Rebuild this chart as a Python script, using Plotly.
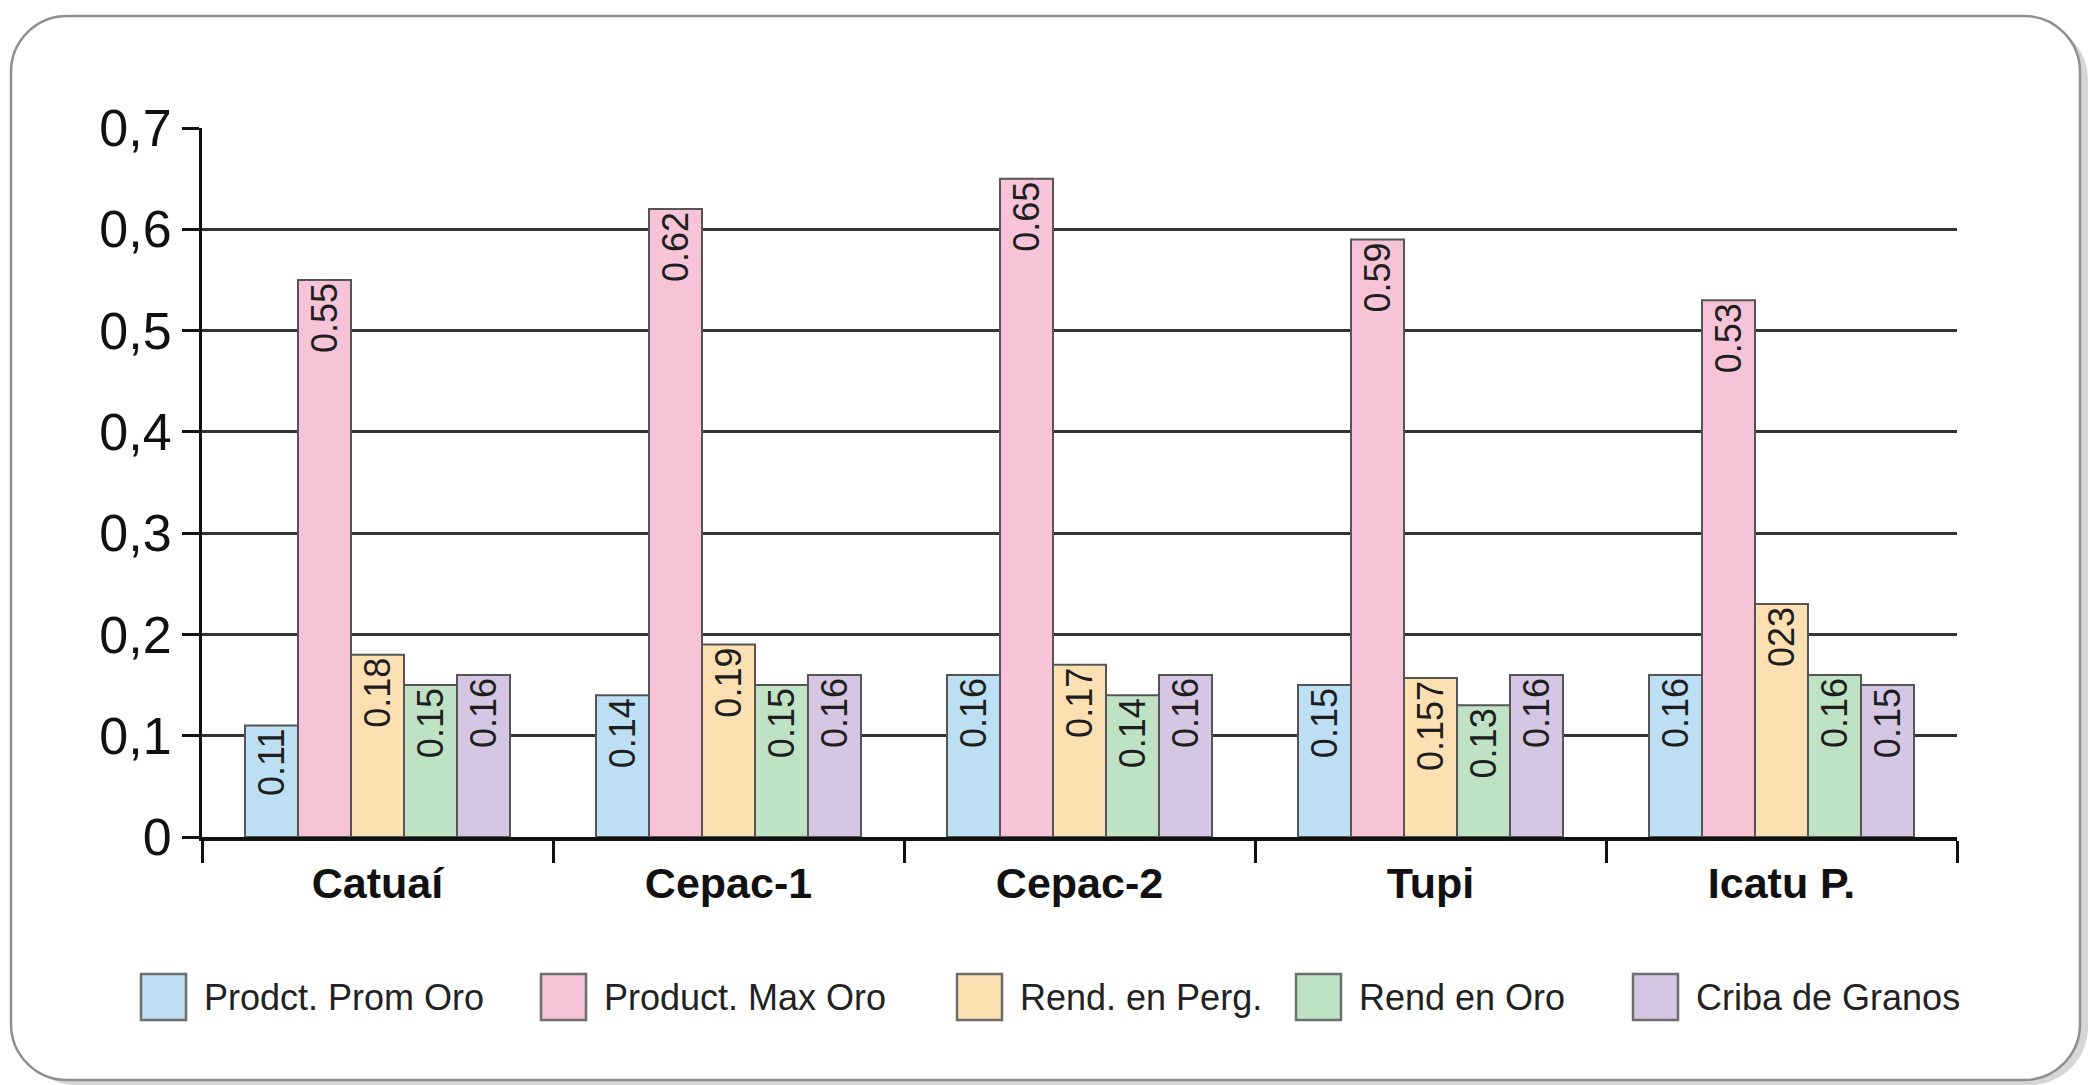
import plotly.graph_objects as go

# ---- data -------------------------------------------------------------
varieties = ["Catuaí", "Cepac-1", "Cepac-2", "Tupi", "Icatu P."]

series_names = [
    "Prodct. Prom Oro",
    "Product. Max Oro",
    "Rend. en Perg.",
    "Rend en Oro",
    "Criba de Granos",
]

prod_prom_oro = [0.11, 0.14, 0.16, 0.15, 0.16]
prod_max_oro = [0.55, 0.62, 0.65, 0.59, 0.53]
rend_perg = [0.18, 0.19, 0.17, 0.157, 0.23]
rend_oro = [0.15, 0.15, 0.14, 0.13, 0.16]
criba_granos = [0.16, 0.16, 0.16, 0.16, 0.15]

# value labels as printed on the bars
labels_prom_oro = ["0.11", "0.14", "0.16", "0.15", "0.16"]
labels_max_oro = ["0.55", "0.62", "0.65", "0.59", "0.53"]
labels_perg = ["0.18", "0.19", "0.17", "0.157", "023"]
labels_oro = ["0.15", "0.15", "0.14", "0.13", "0.16"]
labels_criba = ["0.16", "0.16", "0.16", "0.16", "0.15"]

y_tickvals = [0, 0.1, 0.2, 0.3, 0.4, 0.5, 0.6, 0.7]
y_ticktext = ["0", "0,1", "0,2", "0,3", "0,4", "0,5", "0,6", "0,7"]

# ---- style ------------------------------------------------------------
colors = ["#bcdff4", "#f6c3d7", "#fde0b2", "#c0e2c4", "#d5c6e3"]
FONT = "Liberation Sans, Arial, sans-serif"

W, H = 2088, 1085
ML, MR, MT, MB = 202, 131, 128, 248
PW, PH = W - ML - MR, H - MT - MB


def px(x):
    return (x - ML) / PW


def py(y):
    return (H - MB - y) / PH


def rounded_rect(x0, y0, x1, y1, r):
    k = 0.5523 * r
    pts = [
        f"M{px(x0 + r)},{py(y0)}",
        f"L{px(x1 - r)},{py(y0)}",
        f"C{px(x1 - r + k)},{py(y0)} {px(x1)},{py(y0 + r - k)} {px(x1)},{py(y0 + r)}",
        f"L{px(x1)},{py(y1 - r)}",
        f"C{px(x1)},{py(y1 - r + k)} {px(x1 - r + k)},{py(y1)} {px(x1 - r)},{py(y1)}",
        f"L{px(x0 + r)},{py(y1)}",
        f"C{px(x0 + r - k)},{py(y1)} {px(x0)},{py(y1 - r + k)} {px(x0)},{py(y1 - r)}",
        f"L{px(x0)},{py(y0 + r)}",
        f"C{px(x0)},{py(y0 + r - k)} {px(x0 + r - k)},{py(y0)} {px(x0 + r)},{py(y0)}",
        "Z",
    ]
    return " ".join(pts)


all_values = [prod_prom_oro, prod_max_oro, rend_perg, rend_oro, criba_granos]
all_labels = [labels_prom_oro, labels_max_oro, labels_perg, labels_oro, labels_criba]

fig = go.Figure()
for name, vals, labs, col in zip(series_names, all_values, all_labels, colors):
    fig.add_trace(
        go.Bar(
            name=name,
            x=varieties,
            y=vals,
            text=labs,
            textposition="inside",
            insidetextanchor="end",
            textangle=-90,
            constraintext="none",
            textfont=dict(family=FONT, size=36, color="#1e1e1e"),
            marker=dict(color=col, line=dict(color="#555555", width=2)),
            showlegend=False,
            cliponaxis=False,
        )
    )

shapes = [
    # drop shadow of the frame
    dict(type="path", xref="paper", yref="paper", layer="below",
         path=rounded_rect(18, 22, 2088, 1085, 58),
         fillcolor="#d6d6d6", line=dict(width=0)),
    # rounded frame
    dict(type="path", xref="paper", yref="paper", layer="below",
         path=rounded_rect(11, 16, 2080, 1080, 56),
         fillcolor="#ffffff", line=dict(color="#8f8f8f", width=2.5)),
]

annotations = []
legend_x = [141, 541, 957, 1296, 1633]
for lx, name, col in zip(legend_x, series_names, colors):
    shapes.append(
        dict(type="rect", xref="paper", yref="paper",
             x0=px(lx), x1=px(lx + 45), y0=py(974), y1=py(1020),
             fillcolor=col, line=dict(color="#6e6e6e", width=2.5))
    )
    annotations.append(
        dict(xref="paper", yref="paper", x=px(lx + 61), y=py(997),
             xanchor="left", yanchor="middle", showarrow=False, text=name,
             font=dict(family=FONT, size=36, color="#222222"))
    )

fig.update_layout(
    width=W,
    height=H,
    margin=dict(l=ML, r=MR, t=MT, b=MB, pad=0),
    paper_bgcolor="#ffffff",
    plot_bgcolor="rgba(0,0,0,0)",
    barmode="group",
    bargap=0.245,
    bargroupgap=0,
    shapes=shapes,
    annotations=annotations,
    font=dict(family=FONT, color="#111111"),
    xaxis=dict(
        type="category",
        range=[-0.5, 4.5],
        showgrid=False,
        showline=True,
        linecolor="#111111",
        linewidth=3.5,
        ticks="outside",
        tickson="boundaries",
        ticklen=22,
        tickwidth=2.5,
        tickcolor="#111111",
        ticklabelstandoff=6,
        tickfont=dict(family=FONT, size=43, color="#111111", weight="bold"),
        zeroline=False,
    ),
    yaxis=dict(
        range=[0, 0.7],
        tickvals=y_tickvals,
        ticktext=y_ticktext,
        showgrid=True,
        gridcolor="#333333",
        gridwidth=3,
        showline=True,
        linecolor="#111111",
        linewidth=3,
        ticks="outside",
        ticklen=17,
        tickwidth=2.5,
        tickcolor="#111111",
        tickfont=dict(family=FONT, size=52, color="#111111"),
        zeroline=False,
    ),
)

fig.write_html("out.html")
